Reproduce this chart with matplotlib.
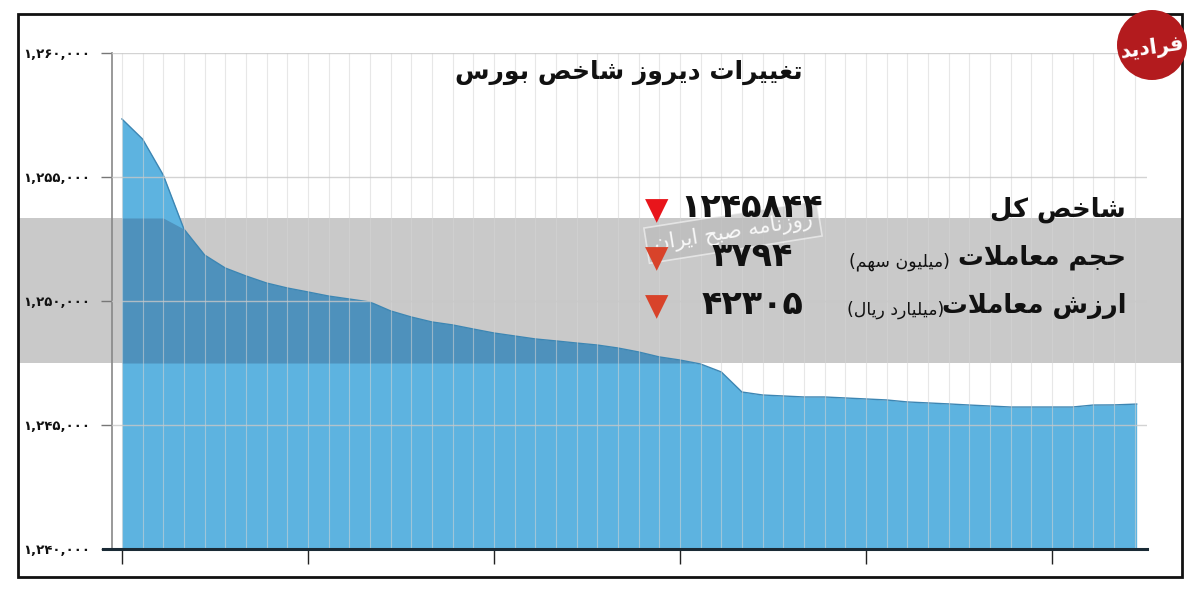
import numpy as np
import matplotlib
matplotlib.use("Agg")
import matplotlib.pyplot as plt
from matplotlib.patches import Rectangle, Ellipse
from matplotlib.lines import Line2D

plt.rcParams['font.family'] = ['DejaVu Sans', 'Noto Sans']

# ---------------- data ----------------
x_steps = list(range(50))
index_values = [1257340, 1256530, 1255080, 1252900, 1251855, 1251330, 1251010, 1250725,
                1250525, 1250365, 1250200, 1250080, 1249960, 1249600, 1249355, 1249155,
                1249035, 1248870, 1248710, 1248590, 1248470, 1248390, 1248305, 1248225,
                1248105, 1247945, 1247745, 1247620, 1247460, 1247140, 1246330, 1246210,
                1246170, 1246130, 1246130, 1246090, 1246050, 1246010, 1245930, 1245890,
                1245850, 1245805, 1245765, 1245725, 1245725, 1245725, 1245725, 1245805,
                1245810, 1245844]
y_ticks = [1240000, 1245000, 1250000, 1255000, 1260000]
x_major_ticks = [0, 9, 18, 27, 36, 45]

title_text = "تغییرات دیروز شاخص بورس"
row_labels = ["شاخص کل", "حجم معاملات", "ارزش معاملات"]
row_units = ["", "میلیون سهم", "میلیارد ریال"]
row_values = [1245844, 3794, 42305]
logo_text = "فرادید"
stamp_text = "روزنامه صبح ایران"

# ---------------- Persian shaping helpers ----------------
FORMS = {
    '\u0627': (0xFE8D, 0xFE8E, None, None),
    '\u0622': (0xFE81, 0xFE82, None, None),
    '\u0628': (0xFE8F, 0xFE90, 0xFE91, 0xFE92),
    '\u067E': (0xFB56, 0xFB57, 0xFB58, 0xFB59),
    '\u062A': (0xFE95, 0xFE96, 0xFE97, 0xFE98),
    '\u062C': (0xFE9D, 0xFE9E, 0xFE9F, 0xFEA0),
    '\u062D': (0xFEA1, 0xFEA2, 0xFEA3, 0xFEA4),
    '\u062E': (0xFEA5, 0xFEA6, 0xFEA7, 0xFEA8),
    '\u062F': (0xFEA9, 0xFEAA, None, None),
    '\u0631': (0xFEAD, 0xFEAE, None, None),
    '\u0632': (0xFEAF, 0xFEB0, None, None),
    '\u0633': (0xFEB1, 0xFEB2, 0xFEB3, 0xFEB4),
    '\u0634': (0xFEB5, 0xFEB6, 0xFEB7, 0xFEB8),
    '\u0635': (0xFEB9, 0xFEBA, 0xFEBB, 0xFEBC),
    '\u0637': (0xFEC1, 0xFEC2, 0xFEC3, 0xFEC4),
    '\u0639': (0xFEC9, 0xFECA, 0xFECB, 0xFECC),
    '\u063A': (0xFECD, 0xFECE, 0xFECF, 0xFED0),
    '\u0641': (0xFED1, 0xFED2, 0xFED3, 0xFED4),
    '\u0642': (0xFED5, 0xFED6, 0xFED7, 0xFED8),
    '\u06A9': (0xFB8E, 0xFB8F, 0xFB90, 0xFB91),
    '\u0644': (0xFEDD, 0xFEDE, 0xFEDF, 0xFEE0),
    '\u0645': (0xFEE1, 0xFEE2, 0xFEE3, 0xFEE4),
    '\u0646': (0xFEE5, 0xFEE6, 0xFEE7, 0xFEE8),
    '\u0647': (0xFEE9, 0xFEEA, 0xFEEB, 0xFEEC),
    '\u0648': (0xFEED, 0xFEEE, None, None),
    '\u06CC': (0xFBFC, 0xFBFD, 0xFBFE, 0xFBFF),
}


def fa(s):
    chars = list(s)
    n = len(chars)

    def dual(c):
        return c in FORMS and FORMS[c][2] is not None

    res = []
    i = 0
    while i < n:
        c = chars[i]
        prev = chars[i - 1] if i > 0 else None
        jp = prev is not None and dual(prev)
        if c == '\u0644' and i + 1 < n and chars[i + 1] == '\u0627':
            res.append(chr(0xFEFC if jp else 0xFEFB))
            i += 2
            continue
        if c in FORMS:
            nxt = chars[i + 1] if i + 1 < n else None
            jn = dual(c) and nxt is not None and nxt in FORMS
            f = FORMS[c]
            if jp and jn:
                g = f[3]
            elif jp:
                g = f[1]
            elif jn:
                g = f[2]
            else:
                g = f[0]
            res.append(chr(g))
        else:
            res.append(c)
        i += 1
    return ''.join(reversed(res))


def fa_digits(s):
    return ''.join(chr(0x06F0 + int(ch)) if ch.isdigit() else ch for ch in s)


W, H = 1200, 596
def fx(px):
    return px / W
def fy(py):
    return 1 - py / H

# ---------------- figure ----------------
fig = plt.figure(figsize=(12, 5.96), dpi=100)
fig.patch.set_facecolor('white')

# gray band across the figure (behind the axes)
fig.patches.append(Rectangle((fx(18), fy(363)), fx(1182) - fx(18), fy(218) - fy(363),
                             transform=fig.transFigure, facecolor='#c9c9c9',
                             edgecolor='none', zorder=-5))
# outer frame
fig.patches.append(Rectangle((fx(18), fy(577)), fx(1182) - fx(18), fy(14) - fy(577),
                             transform=fig.transFigure, facecolor='none',
                             edgecolor='#111111', linewidth=2, zorder=10))

ax = fig.add_axes([fx(112), fy(549), fx(1147) - fx(112), fy(53) - fy(549)])
ax.set_zorder(1)
ax.patch.set_alpha(0)

x = np.array(x_steps, dtype=float)
x[-1] = 49.1
v = np.array(index_values, dtype=float)

ax.set_xlim(-0.48, 49.6)
ax.set_ylim(1240000, 1260000)

band_lo = 1260000 - (363 - 53) * 20000 / 496
band_hi = 1260000 - (218 - 53) * 20000 / 496

ax.fill_between(x, 1240000, v, color='#5db3e0', linewidth=0, zorder=2)
ax.fill_between(x, band_lo, np.minimum(v, band_hi), where=v > band_lo,
                interpolate=True, color='#4e91bc', linewidth=0, zorder=3)
ax.plot(x, v, color='#3d86b3', linewidth=1.0, zorder=4)

# grid lines
for k in range(0, 50):
    ax.axvline(k, color='#d4d4d4', linewidth=0.8, alpha=0.55, zorder=5)
for yt in y_ticks[1:]:
    ax.axhline(yt, color='#c8c8c8', linewidth=1.0, alpha=0.8, zorder=5)

ax.set_yticks(y_ticks)
ax.set_yticklabels([fa_digits(f"{t:,}") for t in y_ticks], fontsize=9.5,
                   fontweight='bold', color='#111111')
ax.set_xticks(x_major_ticks)
ax.set_xticklabels([])
ax.tick_params(axis='y', length=8, width=1, color='#777777', pad=8)
ax.tick_params(axis='x', length=11, width=1, color='#222222', direction='out')

for s in ['top', 'right']:
    ax.spines[s].set_visible(False)
ax.spines['left'].set_color('#888888')
ax.spines['left'].set_linewidth(1.2)
ax.spines['bottom'].set_visible(False)
ax.add_line(Line2D([-0.009, 1.0], [0, 0], transform=ax.transAxes, color='#1a2a35',
                   linewidth=2.2, clip_on=False, zorder=6))

# title
fig.text(fx(629), fy(72), fa(title_text), fontsize=18, fontweight='bold',
         ha='center', va='center', color='#111111', zorder=12)

# faint newspaper stamp behind the numbers
fig.text(fx(733), fy(232), fa(stamp_text), fontsize=15, color='white', alpha=0.9,
         ha='center', va='center', rotation=9, zorder=11,
         bbox=dict(boxstyle='square,pad=0.35', facecolor='#b8b8b8', alpha=0.55,
                   edgecolor='white', linewidth=1.2))

# info rows
row_y = [210, 258, 306]
tri_colors = ['#e8151b', '#d8432a', '#d8432a']
unit_right = [0, 950, 944]
for i in range(3):
    fig.text(fx(1126), fy(row_y[i]), fa(row_labels[i]), fontsize=18.5, fontweight='bold',
             ha='right', va='center', color='#111111', zorder=12)
    if row_units[i]:
        fig.text(fx(unit_right[i]), fy(row_y[i] + 4), '(' + fa(row_units[i]) + ')',
                 fontsize=12.5, ha='right', va='center', color='#111111', zorder=12)
    fig.text(fx(752), fy(row_y[i] - 2), fa_digits(str(row_values[i])), fontsize=24,
             fontweight='bold', ha='center', va='center', color='#111111', zorder=12)
    fig.text(fx(657), fy(row_y[i] + 1), '\u25BC', fontsize=22, ha='center', va='center',
             color=tri_colors[i], zorder=12)

# logo
fig.patches.append(Ellipse((fx(1152), fy(45)), width=70 / W, height=70 / H,
                           transform=fig.transFigure, facecolor='#b31b1e',
                           edgecolor='none', zorder=11))
fig.text(fx(1152), fy(48), fa(logo_text), fontsize=15, fontweight='bold', color='white',
         ha='center', va='center', rotation=8, zorder=12)

fig.savefig('out.png', dpi=100, facecolor='white')
